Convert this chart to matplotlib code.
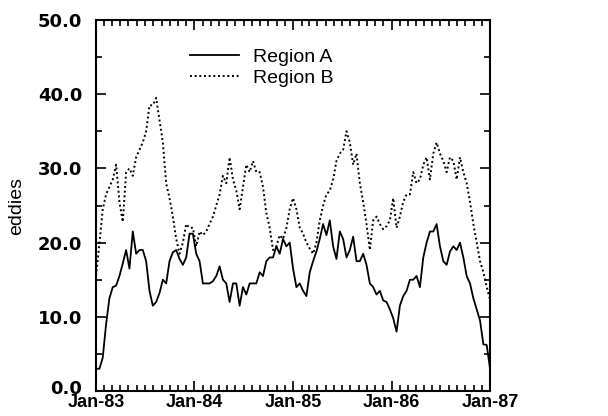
import pandas as pd
import matplotlib
matplotlib.use("Agg")
from matplotlib import pyplot as plt
import matplotlib.dates as mdates
from matplotlib.transforms import ScaledTranslation

plt.rcParams['font.family'] = ['Liberation Sans', 'DejaVu Sans']

# samples every ~12 days, Jan-83 .. Jan-87
region_a = [3.0, 3.0, 4.5, 9.0, 12.5, 14.0, 14.2, 15.5, 17.2, 19.0,
            16.5, 21.5, 18.5, 19.0, 19.0, 17.5, 13.5, 11.5, 12.0, 13.2,
            15.0, 14.5, 17.5, 18.7, 19.0, 17.8, 17.0, 18.0, 21.2, 21.2,
            18.5, 17.5, 14.5, 14.5, 14.5, 14.8, 15.5, 16.8, 15.0, 14.5,
            12.0, 14.5, 14.5, 11.5, 14.0, 13.0, 14.5, 14.5, 14.5, 16.0,
            15.5, 17.5, 18.0, 18.0, 19.5, 18.5, 20.5, 19.5, 20.0, 16.5,
            14.0, 14.5, 13.5, 12.8, 16.0, 17.5, 18.8, 20.5, 22.5, 21.0,
            23.0, 19.5, 17.8, 21.5, 20.5, 18.0, 19.0, 20.8, 17.5, 17.5,
            18.5, 17.0, 14.5, 14.0, 13.0, 13.5, 12.2, 12.0, 11.0, 9.8,
            8.0, 11.5, 12.8, 13.5, 15.0, 15.0, 15.5, 14.0, 18.0, 20.0,
            21.5, 21.5, 22.5, 19.5, 17.5, 17.0, 18.8, 19.5, 19.0, 20.0,
            18.0, 15.5, 14.5, 12.5, 11.0, 9.5, 6.3, 6.2, 3.0]

region_b = [15.5, 19.9, 24.5, 26.5, 27.5, 28.5, 30.5, 25.5, 22.8, 29.5,
            30.0, 29.0, 31.5, 32.5, 33.5, 35.0, 38.5, 38.5, 39.5, 36.5,
            33.5, 28.0, 26.0, 23.5, 20.5, 18.5, 20.0, 22.5, 22.0, 22.0,
            19.5, 21.5, 21.0, 21.5, 22.5, 23.5, 25.0, 26.5, 29.0, 28.0,
            31.5, 28.5, 27.0, 24.5, 27.5, 30.5, 29.5, 31.0, 29.5, 29.5,
            27.5, 24.0, 22.0, 19.0, 19.5, 21.0, 20.5, 22.0, 24.5, 26.0,
            24.5, 22.0, 21.2, 20.0, 19.2, 18.5, 20.0, 23.0, 25.0, 26.5,
            27.0, 28.5, 31.0, 32.0, 32.5, 35.0, 33.5, 30.5, 32.0, 28.0,
            25.5, 22.5, 19.0, 23.0, 23.5, 22.5, 21.8, 22.2, 23.0, 26.0,
            22.0, 23.5, 25.5, 26.5, 26.5, 29.5, 28.0, 28.5, 30.5, 31.5,
            28.5, 32.0, 33.5, 32.0, 31.0, 29.5, 31.5, 31.0, 28.5, 31.5,
            29.5, 28.0, 25.5, 22.5, 20.0, 17.5, 16.0, 14.0, 12.3]

dates = pd.date_range("1983-01-01", "1987-01-01", periods=len(region_a))
year_ticks = pd.to_datetime(["1983-01-01", "1984-01-01", "1985-01-01",
                             "1986-01-01", "1987-01-01"])
y_ticks = [0, 10, 20, 30, 40, 50]

fig = plt.figure(figsize=(6.08, 4.16), dpi=100)
ax = fig.add_axes([0.158, 0.060, 0.648, 0.892])

ax.plot(dates, region_a, color="black", lw=1.3, label="Region A")
ax.plot(dates, region_b, color="black", lw=1.4, linestyle=(0, (1, 1.4)),
        label="Region B")

ax.set_xlim(year_ticks[0], year_ticks[-1])
ax.set_ylim(0, 50)
ax.set_xticks(year_ticks)
ax.xaxis.set_major_formatter(mdates.DateFormatter("%b-%y"))
ax.xaxis.set_minor_locator(mdates.MonthLocator())
ax.set_yticks(y_ticks)
ax.set_yticklabels([f"{v:.1f}" for v in y_ticks])
ax.set_yticks(range(5, 50, 10), minor=True)

for s in ax.spines.values():
    s.set_linewidth(1.5)
ax.tick_params(which="both", direction="in", top=True, right=True, width=1.2)
ax.tick_params(axis="y", labelsize=13, pad=10)
ax.tick_params(axis="x", labelsize=13, pad=2)
ax.tick_params(which="major", length=7)
ax.tick_params(which="minor", length=4)
for lab in ax.get_xticklabels():
    lab.set_fontweight("bold")
for lab in ax.get_yticklabels():
    lab.set_fontweight("bold")
    lab.set_family("DejaVu Sans")

# lift "0.0" a touch so it sits just above "Jan-83"
ylabs = ax.get_yticklabels()
ylabs[0].set_transform(ylabs[0].get_transform()
                       + ScaledTranslation(0, 3 / 72, fig.dpi_scale_trans))

ax.set_ylabel("eddies", fontsize=14, labelpad=9)

ax.legend(loc="upper left", bbox_to_anchor=(0.195, 0.97), frameon=False,
          fontsize=14, handlelength=2.5, handletextpad=0.7, labelspacing=0.15)

fig.savefig("out.png", dpi=100)
